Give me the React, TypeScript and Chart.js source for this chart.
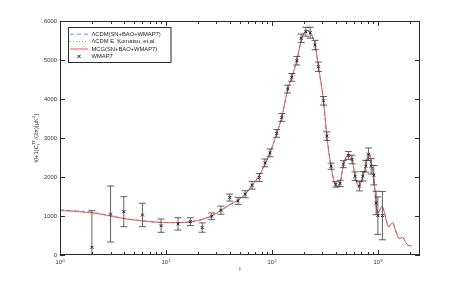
import React, { useEffect, useRef } from 'react';
import { Chart, registerables } from 'chart.js';

Chart.register(...registerables);

// Theory curves: multipole l and D_l = l(l+1)C_l/(2π) [μK²]
const curveL = [1, 2, 3, 4, 6, 9, 13, 17, 22, 27, 33, 40, 48, 56, 65, 76, 86, 96, 111, 124, 141, 154, 172, 189, 200, 214, 230, 256, 275, 307, 330, 362, 390, 410, 440, 473, 500, 530, 571, 610, 660, 720, 770, 800, 830, 860, 900, 940, 970, 1000, 1040, 1090, 1150, 1210, 1260, 1320, 1384, 1450, 1530, 1600, 1660, 1720, 1800, 1880, 1950, 2090];
const mcgD = [1140, 1080, 1000, 935, 875, 835, 830, 850, 915, 1000, 1145, 1290, 1410, 1560, 1780, 2040, 2330, 2620, 3110, 3530, 4250, 4560, 4990, 5500, 5680, 5760, 5700, 5380, 4830, 3950, 3050, 2270, 1850, 1750, 1860, 2300, 2500, 2580, 2460, 2020, 1760, 2010, 2290, 2520, 2600, 2380, 2100, 1650, 1200, 1060, 1150, 1250, 1100, 850, 720, 780, 830, 680, 500, 420, 440, 450, 360, 280, 245, 230];
const lcdmD = [1160, 1095, 1005, 938, 876, 835, 830, 850, 915, 1000, 1145, 1290, 1410, 1560, 1780, 2040, 2330, 2620, 3110, 3530, 4250, 4560, 4990, 5500, 5680, 5760, 5700, 5380, 4830, 3950, 3050, 2270, 1850, 1750, 1860, 2300, 2500, 2580, 2460, 2020, 1760, 2010, 2290, 2520, 2600, 2380, 2100, 1650, 1200, 1060, 1150, 1250, 1100, 850, 720, 780, 830, 680, 500, 420, 440, 450, 360, 280, 245, 230];
const komatsuD = [1150, 1088, 1002, 936, 875, 835, 830, 850, 915, 1000, 1145, 1290, 1410, 1560, 1780, 2040, 2330, 2620, 3110, 3530, 4250, 4560, 4990, 5500, 5680, 5760, 5700, 5380, 4830, 3950, 3050, 2270, 1850, 1750, 1860, 2300, 2500, 2580, 2460, 2020, 1760, 2010, 2290, 2520, 2600, 2380, 2100, 1650, 1200, 1060, 1150, 1250, 1100, 850, 720, 780, 830, 680, 500, 420, 440, 450, 360, 280, 245, 230];

// WMAP7 binned data with symmetric errors
const wmapL = [2, 3, 4, 6, 9, 13, 17, 22, 27, 33, 40, 48, 56, 65, 76, 86, 96, 111, 124, 141, 154, 172, 189, 209, 230, 256, 275, 307, 330, 362, 401, 440, 473, 527, 571, 610, 670, 721, 770, 815, 865, 916, 964, 1000, 1105];
const wmapD = [197, 1051, 1111, 1026, 752, 797, 855, 703, 993, 1148, 1473, 1387, 1558, 1789, 1987, 2362, 2619, 3117, 3527, 4254, 4554, 4981, 5556, 5725, 5699, 5384, 4827, 3954, 3048, 2277, 1810, 1836, 2329, 2552, 2449, 2021, 1764, 2021, 2277, 2585, 2277, 2046, 1335, 1010, 1010];
const wmapErr = [940, 718, 385, 300, 170, 158, 100, 120, 85, 105, 90, 90, 90, 100, 100, 100, 100, 100, 100, 100, 100, 110, 110, 115, 140, 120, 120, 110, 110, 80, 70, 80, 90, 100, 110, 110, 120, 120, 150, 160, 200, 250, 300, 480, 620];

const xDecades = [1, 10, 100, 1000];
const xExponents = ['0', '1', '2', '3'];
const yTicks = [0, 1000, 2000, 3000, 4000, 5000, 6000];
const seriesNames = ['\u039BCDM(SN+BAO+WMAP7)', '\u039BCDM E. Komatsu, et.al.', 'MCG(SN+BAO+WMAP7)', 'WMAP7'];
const xTitle = 'l';

const FONT = '"Liberation Sans", Arial, sans-serif';
const BLUE = '#6f8cff';
const GREEN = '#44bb44';
const RED = '#ff4d4d';
const RED_LINE = 'rgba(255, 70, 70, 0.85)';

const drawCross = (ctx: CanvasRenderingContext2D, cx: number, cy: number, r: number) => {
  ctx.beginPath();
  ctx.moveTo(cx - r, cy - r);
  ctx.lineTo(cx + r, cy + r);
  ctx.moveTo(cx - r, cy + r);
  ctx.lineTo(cx + r, cy - r);
  ctx.stroke();
};

const framePlugin = {
  id: 'matlabFrame',
  afterDatasetsDraw(chart: any) {
    const { ctx, chartArea, scales } = chart;
    const { left, right, top, bottom } = chartArea;
    const x = scales.x;
    const y = scales.y;
    ctx.save();
    ctx.beginPath();
    ctx.rect(left, top, right - left, bottom - top);
    ctx.clip();
    ctx.strokeStyle = '#3a3a3a';
    ctx.lineWidth = 0.8;
    wmapL.forEach((l, i) => {
      const px = x.getPixelForValue(l);
      const y1 = y.getPixelForValue(wmapD[i] + wmapErr[i]);
      const y0 = y.getPixelForValue(Math.max(wmapD[i] - wmapErr[i], -500));
      ctx.beginPath();
      ctx.moveTo(px, y1);
      ctx.lineTo(px, y0);
      ctx.moveTo(px - 3.5, y1);
      ctx.lineTo(px + 3.5, y1);
      ctx.moveTo(px - 3.5, y0);
      ctx.lineTo(px + 3.5, y0);
      ctx.stroke();
    });
    ctx.restore();
  },
  afterDraw(chart: any) {
    const { ctx, chartArea, scales } = chart;
    const { left, right, top, bottom } = chartArea;
    const x = scales.x;
    const y = scales.y;
    ctx.save();
    // frame
    ctx.strokeStyle = '#2a2a2a';
    ctx.lineWidth = 1;
    ctx.strokeRect(left + 0.5, top + 0.5, right - left - 1, bottom - top - 1);
    // x ticks (major + minor)
    ctx.beginPath();
    xDecades.forEach((d) => {
      for (let m = 1; m <= 9; m++) {
        const v = d * m;
        if (v < x.min || v > x.max) continue;
        const px = Math.round(x.getPixelForValue(v)) + 0.5;
        const len = m === 1 ? 5 : 3;
        ctx.moveTo(px, bottom);
        ctx.lineTo(px, bottom - len);
        ctx.moveTo(px, top);
        ctx.lineTo(px, top + len);
      }
    });
    // y ticks
    yTicks.forEach((v) => {
      const py = Math.round(y.getPixelForValue(v)) + 0.5;
      ctx.moveTo(left, py);
      ctx.lineTo(left + 5, py);
      ctx.moveTo(right, py);
      ctx.lineTo(right - 5, py);
    });
    ctx.stroke();

    // tick labels
    ctx.fillStyle = '#333';
    ctx.font = `5.8px ${FONT}`;
    ctx.textAlign = 'right';
    ctx.textBaseline = 'middle';
    yTicks.forEach((v) => {
      ctx.fillText(String(v), left - 3, y.getPixelForValue(v));
    });
    xDecades.forEach((d, i) => {
      const px = x.getPixelForValue(d);
      ctx.font = `5.8px ${FONT}`;
      const w1 = ctx.measureText('10').width;
      ctx.font = `4.3px ${FONT}`;
      const w2 = ctx.measureText(xExponents[i]).width;
      const start = px - (w1 + w2) / 2;
      ctx.textAlign = 'left';
      ctx.textBaseline = 'alphabetic';
      ctx.font = `5.8px ${FONT}`;
      ctx.fillText('10', start, bottom + 9);
      ctx.font = `4.3px ${FONT}`;
      ctx.fillText(xExponents[i], start + w1 + 0.3, bottom + 6.5);
    });

    // x title
    ctx.font = `6px ${FONT}`;
    ctx.textAlign = 'center';
    ctx.textBaseline = 'middle';
    ctx.fillText(xTitle, (left + right) / 2, bottom + 14);

    // y title with sub/superscripts
    ctx.save();
    ctx.translate(36, (top + bottom) / 2);
    ctx.rotate(-Math.PI / 2);
    ctx.textAlign = 'left';
    ctx.textBaseline = 'alphabetic';
    const big = `5.8px ${FONT}`;
    const small = `4.2px ${FONT}`;
    const parts: { t: string; f: string; dy: number; stackWith?: string }[] = [
      { t: 'l(l+1)C', f: big, dy: 0 },
      { t: 'TT', f: small, dy: -3, stackWith: 'l' },
      { t: '/(2\u03C0)[\u03BCK', f: big, dy: 0 },
      { t: '2', f: small, dy: -3 },
      { t: ']', f: big, dy: 0 },
    ];
    let total = 0;
    parts.forEach((p) => {
      ctx.font = p.f;
      total += ctx.measureText(p.t).width + 0.2;
    });
    let cx = -total / 2;
    const base = 2;
    parts.forEach((p) => {
      ctx.font = p.f;
      ctx.fillText(p.t, cx, base + p.dy);
      if (p.stackWith) ctx.fillText(p.stackWith, cx, base + 1.5);
      cx += ctx.measureText(p.t).width + 0.2;
    });
    ctx.restore();

    // legend
    const lx = 68.5, ly = 27.5, lw = 102.5, lh = 35;
    ctx.fillStyle = '#fff';
    ctx.fillRect(lx, ly, lw, lh);
    ctx.strokeStyle = '#2a2a2a';
    ctx.lineWidth = 1;
    ctx.strokeRect(lx, ly, lw, lh);
    const rows = [34.2, 41.6, 49, 56.4];
    const styles = [
      { c: BLUE, dash: [4, 3] },
      { c: GREEN, dash: [1, 2] },
      { c: RED, dash: [] as number[] },
    ];
    styles.forEach((s, i) => {
      ctx.strokeStyle = s.c;
      ctx.lineWidth = 1;
      ctx.setLineDash(s.dash);
      ctx.beginPath();
      ctx.moveTo(70, rows[i]);
      ctx.lineTo(88, rows[i]);
      ctx.stroke();
    });
    ctx.setLineDash([]);
    ctx.strokeStyle = '#111';
    ctx.lineWidth = 0.9;
    drawCross(ctx, 79, rows[3], 1.6);
    ctx.fillStyle = '#222';
    ctx.font = `5.8px ${FONT}`;
    ctx.textAlign = 'left';
    ctx.textBaseline = 'middle';
    seriesNames.forEach((n, i) => ctx.fillText(n, 91.5, rows[i]));
    ctx.restore();
  },
};

export default function App() {
  const canvasRef = useRef<HTMLCanvasElement | null>(null);

  useEffect(() => {
    if (!canvasRef.current) return;
    const toPts = (vals: number[]) => curveL.map((l, i) => ({ x: l, y: vals[i] }));
    const chart = new Chart(canvasRef.current, {
      type: 'line',
      data: {
        datasets: [
          {
            label: seriesNames[0],
            data: toPts(lcdmD),
            borderColor: BLUE,
            borderDash: [4, 3],
            borderWidth: 1,
            pointRadius: 0,
            cubicInterpolationMode: 'monotone',
            order: 4,
          },
          {
            label: seriesNames[1],
            data: toPts(komatsuD),
            borderColor: GREEN,
            borderDash: [1, 2],
            borderWidth: 1,
            pointRadius: 0,
            cubicInterpolationMode: 'monotone',
            order: 3,
          },
          {
            label: seriesNames[2],
            data: toPts(mcgD),
            borderColor: RED_LINE,
            borderWidth: 1,
            pointRadius: 0,
            cubicInterpolationMode: 'monotone',
            order: 2,
          },
          {
            label: seriesNames[3],
            data: wmapL.map((l, i) => ({ x: l, y: wmapD[i] })),
            showLine: false,
            pointStyle: 'crossRot',
            pointRadius: 2,
            pointBorderColor: '#111',
            pointBorderWidth: 1,
            borderColor: '#111',
            order: 1,
          },
        ],
      } as any,
      options: {
        animation: false,
        responsive: true,
        maintainAspectRatio: false,
        layout: { padding: { left: 0, top: 21, right: 43, bottom: 0 } },
        plugins: { legend: { display: false }, tooltip: { enabled: false } },
        scales: {
          x: {
            type: 'logarithmic',
            min: 1,
            max: 2500,
            grid: { display: false, drawTicks: false },
            border: { display: false },
            ticks: { display: false },
            afterFit: (s: any) => { s.height = 32; },
          },
          y: {
            type: 'linear',
            min: 0,
            max: 6000,
            grid: { display: false, drawTicks: false },
            border: { display: false },
            ticks: { display: false, stepSize: 1000 },
            afterFit: (s: any) => { s.width = 60; },
          },
        },
      } as any,
      plugins: [framePlugin],
    });
    return () => chart.destroy();
  }, []);

  return (
    <div style={{ position: 'fixed', left: 0, top: 0, width: 463, height: 287, background: '#fff' }}>
      <canvas ref={canvasRef} />
    </div>
  );
}
